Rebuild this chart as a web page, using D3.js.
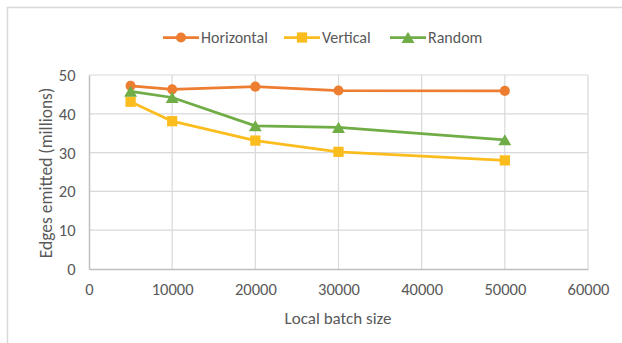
<!DOCTYPE html>
<html>
<head>
<meta charset="utf-8">
<script src="https://cdn.jsdelivr.net/npm/d3@7"></script>
<style>
  html, body { margin: 0; padding: 0; background: #fff; }
  svg { display: block; }
  text { font-family: Carlito, "Open Sans", "Liberation Sans", sans-serif; fill: #595959; }
</style>
</head>
<body>
<svg id="chart" width="622" height="343"></svg>
<script>
// Local batch sizes used on the x axis
const batchSizes = [5000, 10000, 20000, 30000, 50000];
// Edges emitted (millions) for each partitioning strategy
const horizontal = [47.2, 46.3, 47.0, 46.0, 45.9];
const vertical   = [43.1, 38.1, 33.1, 30.2, 28.0];
const random     = [45.8, 44.2, 36.9, 36.5, 33.3];
const seriesNames = ["Horizontal", "Vertical", "Random"];
const xTicks = [0, 10000, 20000, 30000, 40000, 50000, 60000];
const yTicks = [0, 10, 20, 30, 40, 50];

const colors = { Horizontal: "#ED7D31", Vertical: "#FBBC1E", Random: "#70AD47" };
const symbols = { Horizontal: d3.symbolCircle, Vertical: d3.symbolSquare, Random: d3.symbolTriangle };
const symbolSize = { Horizontal: 80, Vertical: 105, Random: 72 };
// triangles are shifted so their bounding box is centred on the point
const symbolShift = { Horizontal: 0, Vertical: 0, Random: 1.8 };
const seriesData = { Horizontal: horizontal, Vertical: vertical, Random: random };

const svg = d3.select("#chart");

// Outer chart frame
svg.append("path")
  .attr("d", "M7.5,343 V7.5 H622")
  .attr("fill", "none")
  .attr("stroke", "#d9d9d9")
  .attr("stroke-width", 1.5);

const x = d3.scaleLinear().domain([0, 60000]).range([89, 588]);
const y = d3.scaleLinear().domain([0, 50]).range([269, 75]);

// Gridlines
const grid = svg.append("g");
grid.selectAll(".hg").data(yTicks.filter(d => d > 0)).join("line")
  .attr("x1", x(0)).attr("x2", x(60000))
  .attr("y1", d => y(d)).attr("y2", d => y(d))
  .attr("stroke", "#d9d9d9").attr("stroke-width", 1.2);
grid.selectAll(".vg").data(xTicks.filter(d => d > 0)).join("line")
  .attr("x1", d => x(d)).attr("x2", d => x(d))
  .attr("y1", y(0)).attr("y2", y(50))
  .attr("stroke", "#d9d9d9").attr("stroke-width", 1.2);

// Axes
const xAxis = svg.append("g")
  .attr("transform", `translate(0,${y(0)})`)
  .call(d3.axisBottom(x).tickValues(xTicks).tickFormat(d3.format("d")).tickSize(0));
xAxis.selectAll("text").attr("y", 25.5).attr("dy", null);
const yAxis = svg.append("g")
  .attr("transform", `translate(${x(0)},0)`)
  .call(d3.axisLeft(y).tickValues(yTicks).tickSize(0));
yAxis.selectAll("text").attr("x", -13.5).attr("y", 5.5).attr("dy", null);
[xAxis, yAxis].forEach(a => {
  a.select(".domain").attr("stroke", "#bfbfbf").attr("stroke-width", 1.5);
  a.selectAll("text").style("font-size", "16.5px").attr("fill", "#595959")
    .style("font-family", "Carlito, 'Open Sans', sans-serif");
});

// Axis titles
svg.append("text")
  .attr("x", 338).attr("y", 324)
  .attr("text-anchor", "middle")
  .style("font-size", "17px")
  .text("Local batch size");
svg.append("text")
  .attr("transform", "translate(52,173) rotate(-90)")
  .attr("text-anchor", "middle")
  .style("font-size", "17.5px")
  .text("Edges emitted (millions)");

// Series lines and markers
const line = d3.line().x((d, i) => x(batchSizes[i])).y(d => y(d));
seriesNames.forEach(name => {
  const vals = seriesData[name];
  svg.append("path")
    .datum(vals)
    .attr("d", line)
    .attr("fill", "none")
    .attr("stroke", colors[name])
    .attr("stroke-width", 2.75)
    .attr("stroke-linejoin", "round");
  svg.append("g").selectAll("path").data(vals).join("path")
    .attr("transform", (d, i) => `translate(${x(batchSizes[i])},${y(d) + symbolShift[name]})`)
    .attr("d", d3.symbol().type(symbols[name]).size(symbolSize[name]))
    .attr("fill", colors[name]);
});

// Legend
const legendPos = { Horizontal: 163, Vertical: 284, Random: 390 };
const legendY = 37.5;
seriesNames.forEach(name => {
  const lx = legendPos[name];
  const g = svg.append("g");
  g.append("line")
    .attr("x1", lx).attr("x2", lx + 36)
    .attr("y1", legendY).attr("y2", legendY)
    .attr("stroke", colors[name]).attr("stroke-width", 2.75);
  g.append("path")
    .attr("transform", `translate(${lx + 18},${legendY + symbolShift[name]})`)
    .attr("d", d3.symbol().type(symbols[name]).size(symbolSize[name]))
    .attr("fill", colors[name]);
  g.append("text")
    .attr("x", lx + 38).attr("y", legendY + 5.5)
    .style("font-size", "16px")
    .text(name);
});
</script>
</body>
</html>
